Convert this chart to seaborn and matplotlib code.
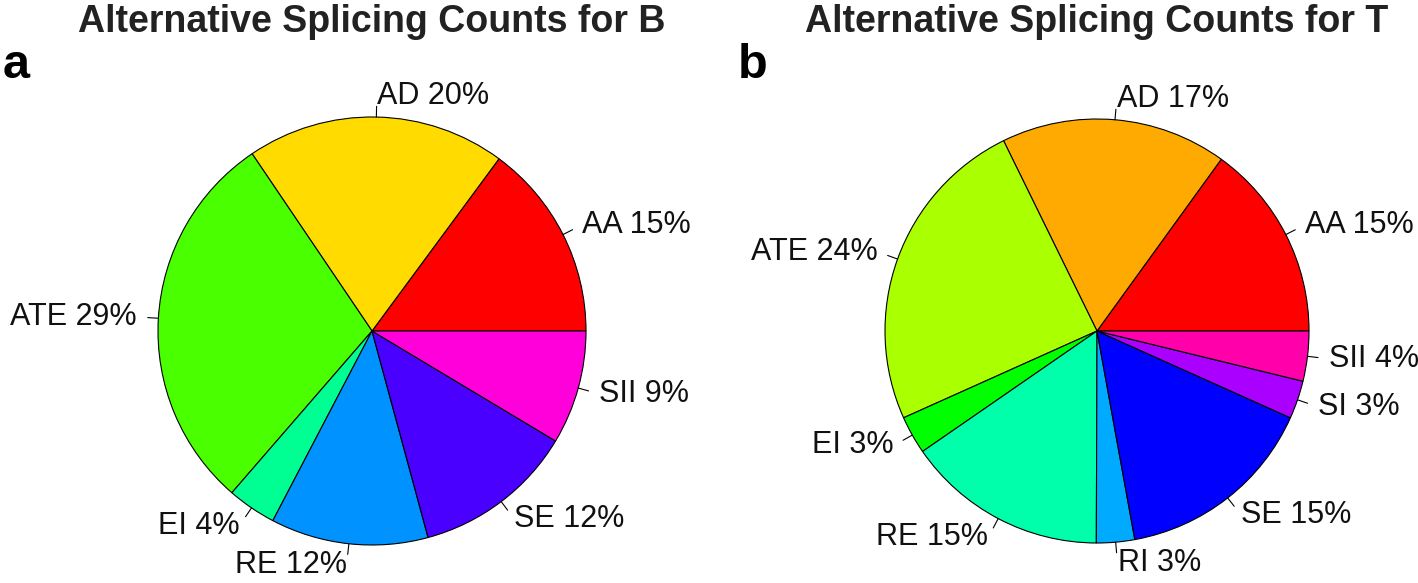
import matplotlib
matplotlib.use("Agg")
import numpy as np
import matplotlib.pyplot as plt
import seaborn as sns

sns.set_theme(style="white")
plt.rcParams['font.family'] = ['Liberation Sans', 'DejaVu Sans']

# splicing event shares (percent)
labels_b = ["AA", "AD", "ATE", "EI", "RE", "SE", "SII"]
shares_b = [14.9, 19.6, 29.2, 3.7, 11.9, 12.2, 8.6]
labels_t = ["AA", "AD", "ATE", "EI", "RE", "RI", "SE", "SI", "SII"]
shares_t = [15.0, 17.2, 24.4, 2.9, 15.3, 2.9, 15.4, 2.9, 3.8]

W, H = 1418, 583
fig = plt.figure(figsize=(W / 100, H / 100), dpi=100)


def draw_pie(cx, cy, r, labels, shares, title, letter, lx):
    ax = fig.add_axes([(cx - r) / W, (H - cy - r) / H, 2 * r / W, 2 * r / H])
    colors = sns.hls_palette(len(shares), h=0, l=0.5, s=1)
    wedges, _ = ax.pie(shares, colors=colors, startangle=0, counterclock=True,
                       wedgeprops=dict(edgecolor="black", linewidth=0.8))
    total = sum(shares)
    for w, lab, v in zip(wedges, labels, shares):
        a = np.deg2rad((w.theta1 + w.theta2) / 2)
        x, y = np.cos(a), np.sin(a)
        ax.plot([x, 1.05 * x], [y, 1.05 * y], color="black", lw=0.8, clip_on=False)
        ax.text(1.1 * x, 1.1 * y, f"{lab} {round(v / total * 100)}%",
                ha="left" if x > 0 else "right", va="center",
                fontsize=22, color="#111111", clip_on=False)
    ax.set_xlim(-1, 1)
    ax.set_ylim(-1, 1)
    ax.axis("off")
    fig.text(cx / W, 1 - 22 / H, title, ha="center", va="center",
             fontsize=27, fontweight="bold", color="#222222")
    fig.text(lx / W, 1 - 66 / H, letter, ha="left", va="center",
             fontsize=35, fontweight="bold", color="black")


draw_pie(372, 331, 214, labels_b, shares_b, "Alternative Splicing Counts for B", "a", 3)
draw_pie(1097, 331, 212, labels_t, shares_t, "Alternative Splicing Counts for T", "b", 738)

fig.savefig("out.png", dpi=100)
